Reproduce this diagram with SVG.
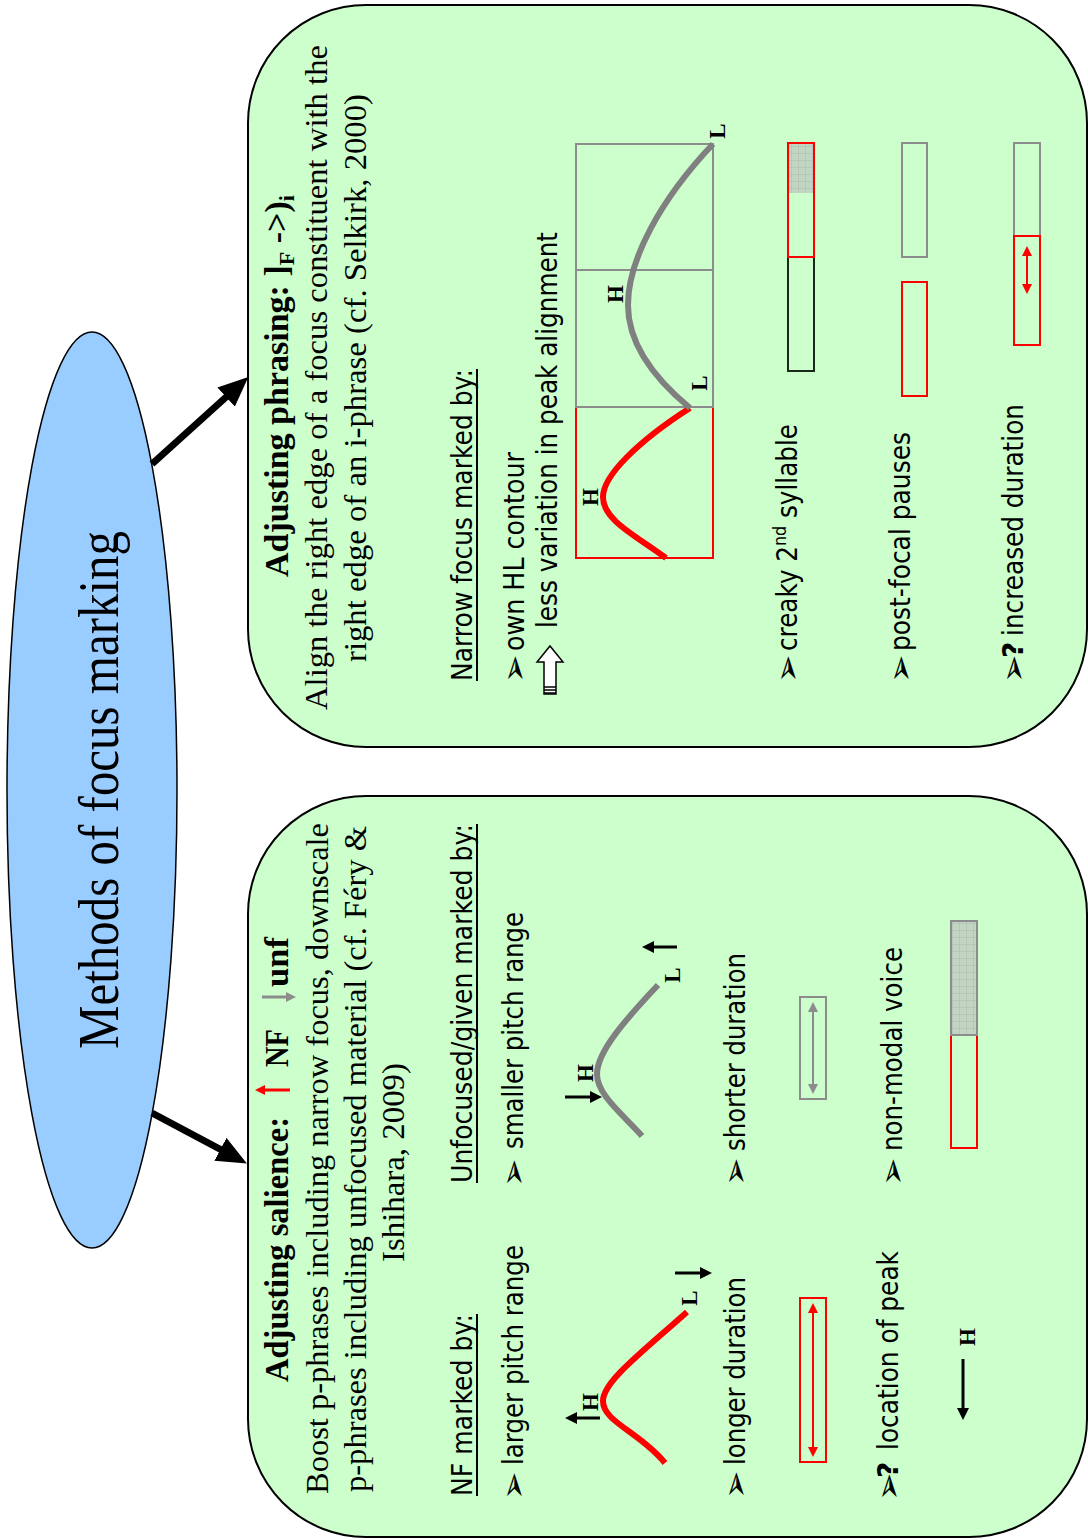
<svg xmlns="http://www.w3.org/2000/svg" width="1088" height="1540" viewBox="0 0 1088 1540">
<style>
.serif{font-family:"Liberation Serif","Times New Roman",serif;font-size:32px;fill:#000}
.hd{font-family:"Liberation Serif","Times New Roman",serif;font-size:34px;font-weight:bold;fill:#000}
.sans{font-family:"DejaVu Sans",Verdana,sans-serif;font-size:28px;fill:#000}
.q{font-family:"DejaVu Sans",Verdana,sans-serif;font-size:28px;font-weight:bold;fill:#000}
.bul{font-family:"DejaVu Sans",sans-serif;font-size:34px;fill:#000}
.lbl{font-family:"Liberation Serif","Times New Roman",serif;font-size:23px;font-weight:bold;fill:#000;text-anchor:middle}
.box{fill:#CCFFCC;stroke:#000;stroke-width:2}
.ul{stroke:#000;stroke-width:2}
.rr{fill:none;stroke:#FF0000;stroke-width:2}
.gr{fill:none;stroke:#8C8C8C;stroke-width:2}
.kr{fill:none;stroke:#1a2a1a;stroke-width:2}
.cr{fill:none;stroke:#FF0000;stroke-width:6}
.cg{fill:none;stroke:#808080;stroke-width:6}
.ak{stroke:#000;stroke-width:3;marker-end:url(#mK)}
</style>
<defs>
<marker id="mBig" markerUnits="userSpaceOnUse" viewBox="0 0 30 26" markerWidth="30" markerHeight="26" refX="12" refY="13" orient="auto"><path d="M0,0 L30,13 L0,26 z" fill="#000"/></marker>
<marker id="mK" markerUnits="userSpaceOnUse" viewBox="0 0 12 12" markerWidth="12" markerHeight="12" refX="2" refY="6" orient="auto"><path d="M0,0 L12,6 L0,12 z" fill="#000"/></marker>
<marker id="mR" markerUnits="userSpaceOnUse" viewBox="0 0 10 10" markerWidth="10" markerHeight="10" refX="2" refY="5" orient="auto-start-reverse"><path d="M0,0 L10,5 L0,10 z" fill="#FF0000"/></marker>
<marker id="mG" markerUnits="userSpaceOnUse" viewBox="0 0 10 10" markerWidth="10" markerHeight="10" refX="2" refY="5" orient="auto-start-reverse"><path d="M0,0 L10,5 L0,10 z" fill="#8C8C8C"/></marker>
<pattern id="grid" width="7" height="7" patternUnits="userSpaceOnUse"><rect width="7" height="7" fill="#C2D4C2"/><path d="M0,0H7M0,0V7" stroke="#A9B8A9" stroke-width="0.8"/></pattern>
</defs>
<g transform="translate(0,1540) rotate(-90)">

<g id="root">
<ellipse cx="750" cy="92" rx="458" ry="85" fill="#99CCFF" stroke="#000" stroke-width="1.5"/>
<text class="serif" x="491" y="118" textLength="518" lengthAdjust="spacingAndGlyphs" style="font-size:58px">Methods of focus marking</text>
</g>

<g id="connectors">
<line x1="427" y1="152" x2="385" y2="231" stroke="#000" stroke-width="7" marker-end="url(#mBig)"/>
<line x1="1076" y1="152" x2="1151" y2="235" stroke="#000" stroke-width="7" marker-end="url(#mBig)"/>
</g>

<g id="salience">
<rect class="box" x="3" y="248" width="741" height="839" rx="118" ry="118"/>
<text class="hd" x="158" y="288" textLength="265" lengthAdjust="spacingAndGlyphs">Adjusting salience:</text>
<line x1="450" y1="290" x2="450" y2="263" stroke="#FF0000" stroke-width="3" marker-end="url(#mR)"/>
<text class="hd" x="473" y="288" textLength="38" lengthAdjust="spacingAndGlyphs">NF</text>
<line x1="543" y1="262" x2="543" y2="288" stroke="#8C8C8C" stroke-width="3" marker-end="url(#mG)"/>
<text class="hd" x="553" y="288" textLength="50" lengthAdjust="spacingAndGlyphs">unf</text>
<text class="serif" x="46" y="328" textLength="671" lengthAdjust="spacingAndGlyphs">Boost p-phrases including narrow focus, downscale</text>
<text class="serif" x="48" y="366" textLength="666" lengthAdjust="spacingAndGlyphs">p-phrases including unfocused material (cf. Féry &amp;</text>
<text class="serif" x="278" y="404" textLength="199" lengthAdjust="spacingAndGlyphs">Ishihara, 2009)</text>

<text class="sans" x="44" y="472" textLength="182" lengthAdjust="spacingAndGlyphs">NF marked by:</text>
<line class="ul" x1="44" y1="477" x2="226" y2="477"/>
<text class="sans" x="357" y="472" textLength="359" lengthAdjust="spacingAndGlyphs">Unfocused/given marked by:</text>
<line class="ul" x1="357" y1="477" x2="716" y2="477"/>

<text class="bul" x="40" y="525">➢</text>
<text class="sans" x="75" y="523" textLength="220" lengthAdjust="spacingAndGlyphs">larger pitch range</text>
<text class="bul" x="353" y="525">➢</text>
<text class="sans" x="391" y="523" textLength="237" lengthAdjust="spacingAndGlyphs">smaller pitch range</text>

<path class="cr" d="M77,665 C108,640 118,603 139,603 C158,603 186,640 228,687"/>
<text class="lbl" x="138" y="598">H</text>
<line class="ak" x1="122" y1="600" x2="122" y2="575"/>
<text class="lbl" x="242" y="697">L</text>
<line class="ak" x1="267" y1="675" x2="267" y2="702"/>

<path class="cg" d="M404,642 C428,620 446,597 466,597 C488,597 520,625 555,658"/>
<text class="lbl" x="467" y="593">H</text>
<line class="ak" x1="443" y1="565" x2="443" y2="592"/>
<text class="lbl" x="565" y="680">L</text>
<line class="ak" x1="593" y1="677" x2="593" y2="652"/>

<text class="bul" x="41" y="747">➢</text>
<text class="sans" x="75" y="745" textLength="188" lengthAdjust="spacingAndGlyphs">longer duration</text>
<text class="bul" x="354" y="747">➢</text>
<text class="sans" x="389" y="745" textLength="198" lengthAdjust="spacingAndGlyphs">shorter duration</text>

<rect class="rr" x="78" y="800" width="164" height="26"/>
<line x1="91" y1="813" x2="229" y2="813" stroke="#FF0000" stroke-width="2" marker-start="url(#mR)" marker-end="url(#mR)"/>
<rect class="gr" x="441" y="800" width="102" height="26"/>
<line x1="454" y1="813" x2="530" y2="813" stroke="#8C8C8C" stroke-width="2" marker-start="url(#mG)" marker-end="url(#mG)"/>

<text class="bul" x="39" y="900">➢</text>
<text class="q" x="62" y="898">?</text>
<text class="sans" x="90" y="898" textLength="199" lengthAdjust="spacingAndGlyphs">location of peak</text>
<text class="bul" x="354" y="904">➢</text>
<text class="sans" x="389" y="902" textLength="204" lengthAdjust="spacingAndGlyphs">non-modal voice</text>

<text class="lbl" x="203" y="975">H</text>
<line class="ak" x1="181" y1="963" x2="130" y2="963"/>

<rect class="rr" x="392" y="951" width="113" height="26"/>
<rect x="505" y="951" width="114" height="26" fill="url(#grid)" stroke="#8C8C8C" stroke-width="2"/>
</g>

<g id="phrasing">
<rect class="box" x="793" y="248" width="742" height="839" rx="118" ry="118"/>
<text class="hd" x="963" y="288">Adjusting phrasing: ]<tspan dy="6" style="font-size:22px">F</tspan><tspan dy="-6"> -&gt;)</tspan><tspan dy="6" style="font-size:22px">i</tspan></text>
<text class="serif" x="830" y="327" textLength="665" lengthAdjust="spacingAndGlyphs">Align the right edge of a focus constituent with the</text>
<text class="serif" x="878" y="366" textLength="568" lengthAdjust="spacingAndGlyphs">right edge of an i-phrase (cf. Selkirk, 2000)</text>

<text class="sans" x="859" y="472" textLength="312" lengthAdjust="spacingAndGlyphs">Narrow focus marked by:</text>
<line class="ul" x1="859" y1="477" x2="1171" y2="477"/>

<text class="bul" x="857" y="526">➢</text>
<text class="sans" x="889" y="524" textLength="199" lengthAdjust="spacingAndGlyphs">own HL contour</text>
<g>
<path d="M846,544 L878,544 L878,537 L894,550 L878,563 L878,556 L846,556 Z" fill="#fff" stroke="#000" stroke-width="1.5"/>
<path d="M847,544 V556 M850,544 V556 M853,544 V556" stroke="#000" stroke-width="1.5"/>
</g>
<text class="sans" x="912" y="557" textLength="396" lengthAdjust="spacingAndGlyphs">less variation in peak alignment</text>

<rect class="rr" x="982" y="576" width="151" height="137"/>
<rect class="gr" x="1133" y="576" width="137" height="137"/>
<rect class="gr" x="1270" y="576" width="126" height="137"/>
<path class="cr" d="M982,666 C1005,635 1020,603 1043,603 C1065,603 1100,640 1132,690"/>
<path class="cg" d="M1132,690 C1165,650 1200,628 1235,628 C1280,628 1340,660 1396,713"/>
<text class="lbl" x="1043" y="598">H</text>
<text class="lbl" x="1157" y="707">L</text>
<text class="lbl" x="1246" y="623">H</text>
<text class="lbl" x="1409" y="725">L</text>

<text class="bul" x="857" y="799">➢</text>
<text class="sans" x="889" y="797" textLength="227" lengthAdjust="spacingAndGlyphs">creaky 2<tspan dy="-11" style="font-size:18px">nd</tspan><tspan dy="11"> syllable</tspan></text>
<rect class="kr" x="1169" y="788" width="114" height="26"/>
<rect x="1347" y="788" width="50" height="26" fill="url(#grid)"/>
<rect class="rr" x="1283" y="788" width="114" height="26"/>

<text class="bul" x="857" y="912">➢</text>
<text class="sans" x="889" y="910" textLength="219" lengthAdjust="spacingAndGlyphs">post-focal pauses</text>
<rect class="rr" x="1144" y="902" width="114" height="25"/>
<rect class="gr" x="1283" y="902" width="114" height="25"/>

<text class="bul" x="857" y="1025">➢</text>
<text class="q" x="882" y="1023">?</text>
<text class="sans" x="904" y="1023" textLength="232" lengthAdjust="spacingAndGlyphs">increased duration</text>
<rect class="gr" x="1304" y="1014" width="93" height="26"/>
<rect class="rr" x="1195" y="1014" width="109" height="26"/>
<line x1="1254" y1="1027" x2="1286" y2="1027" stroke="#FF0000" stroke-width="2" marker-start="url(#mR)" marker-end="url(#mR)"/>
</g>

</g>
</svg>
